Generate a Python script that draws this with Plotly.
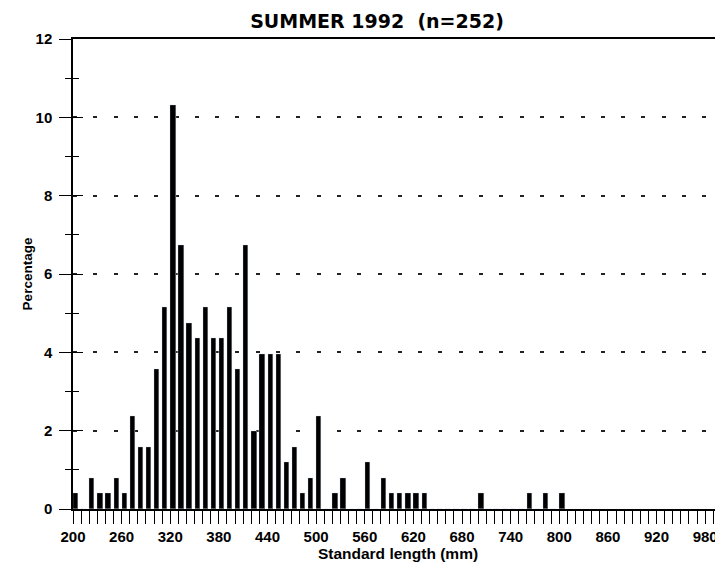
import plotly.graph_objects as go

# 10-mm length classes (lower bound, mm)
length_bins = [200, 210, 220, 230, 240, 250, 260, 270, 280, 290,
               300, 310, 320, 330, 340, 350, 360, 370, 380, 390,
               400, 410, 420, 430, 440, 450, 460, 470, 480, 490,
               500, 510, 520, 530, 540, 550, 560, 570, 580, 590,
               600, 610, 620, 630, 640, 650, 660, 670, 680, 690,
               700, 710, 720, 730, 740, 750, 760, 770, 780, 790,
               800]
percentage = [0.40, 0.00, 0.79, 0.40, 0.40, 0.79, 0.40, 2.38, 1.59, 1.59,
              3.57, 5.16, 10.32, 6.75, 4.76, 4.37, 5.16, 4.37, 4.37, 5.16,
              3.57, 6.75, 1.98, 3.97, 3.97, 3.97, 1.19, 1.59, 0.40, 0.79,
              2.38, 0.00, 0.40, 0.79, 0.00, 0.00, 1.19, 0.00, 0.79, 0.40,
              0.40, 0.40, 0.40, 0.40, 0.00, 0.00, 0.00, 0.00, 0.00, 0.00,
              0.40, 0.00, 0.00, 0.00, 0.00, 0.00, 0.40, 0.00, 0.40, 0.00,
              0.40]
x_tick_vals = list(range(200, 1000, 60))
y_tick_vals = [0, 2, 4, 6, 8, 10, 12]

title_text = "SUMMER 1992  (n=252)"
x_title = "Standard length (mm)"
y_title = "Percentage"

TICK_FONT = dict(family="Liberation Sans, Arial, sans-serif", size=15, color="black")

# the page body has an 8px margin, so the figure is sized to fit the window
W, H = 715, 561

fig = go.Figure()
fig.add_trace(go.Bar(
    x=length_bins, y=percentage, offset=0, width=6.5,
    marker=dict(color="black", line=dict(width=0)),
    showlegend=False, hoverinfo="x+y",
))
# invisible copy to activate the overlaid axis that draws inner tick halves
fig.add_trace(go.Bar(
    x=length_bins, y=percentage, offset=0, width=6.5, yaxis="y2",
    marker=dict(color="rgba(0,0,0,0)"), showlegend=False, hoverinfo="skip",
))

fig.update_layout(
    width=W, height=H,
    margin=dict(l=65, r=0, t=31, b=60),
    paper_bgcolor="white", plot_bgcolor="white",
    bargap=0,
    title=dict(
        text="<b>" + title_text + "</b>",
        font=dict(family="DejaVu Sans, sans-serif", size=19, color="black"),
        x=369 / W, xanchor="center", xref="container",
        y=1 - 13 / H, yanchor="middle", yref="container",
    ),
    xaxis=dict(
        range=[200, 1002], automargin=False,
        tickmode="array", tickvals=x_tick_vals,
        ticktext=["<b>%d</b>" % v for v in x_tick_vals],
        ticks="outside", ticklen=13, tickwidth=1.2, tickcolor="black",
        minor=dict(dtick=10, tick0=200, ticks="outside", ticklen=13,
                   tickwidth=1.2, tickcolor="black", showgrid=False),
        showline=True, linecolor="black", linewidth=1.5, mirror=True,
        showgrid=False, zeroline=False,
        tickfont=TICK_FONT,
        ticklabelstandoff=0,
        title=dict(text="<b>" + x_title + "</b>",
                   font=dict(family="Liberation Sans, Arial, sans-serif", size=15.5, color="black"),
                   standoff=2),
    ),
    yaxis=dict(
        range=[0, 12], automargin=False,
        tickmode="array", tickvals=y_tick_vals,
        ticktext=["<b>%d</b>" % v for v in y_tick_vals],
        ticks="outside", ticklen=12, tickwidth=1.2, tickcolor="black",
        minor=dict(dtick=1, tick0=0, ticks="outside", ticklen=6,
                   tickwidth=1.2, tickcolor="black", showgrid=False),
        showline=True, linecolor="black", linewidth=1.5,
        showgrid=True, gridcolor="#222", gridwidth=1.6, griddash="4px,16.3px",
        zeroline=False,
        tickfont=TICK_FONT,
        ticklabelstandoff=4,
        title=dict(text="<b>" + y_title + "</b>",
                   font=dict(family="Liberation Sans, Arial, sans-serif", size=13.5, color="black"),
                   standoff=0),
    ),
    yaxis2=dict(
        range=[0, 12], overlaying="y", side="left", anchor="x", automargin=False,
        tickmode="array", tickvals=y_tick_vals, showticklabels=False,
        ticks="inside", ticklen=10, tickwidth=1.2, tickcolor="black",
        minor=dict(dtick=1, tick0=0, ticks="inside", ticklen=6,
                   tickwidth=1.2, tickcolor="black", showgrid=False),
        showline=False, showgrid=False, zeroline=False,
    ),
)

fig.write_html("out.html")
